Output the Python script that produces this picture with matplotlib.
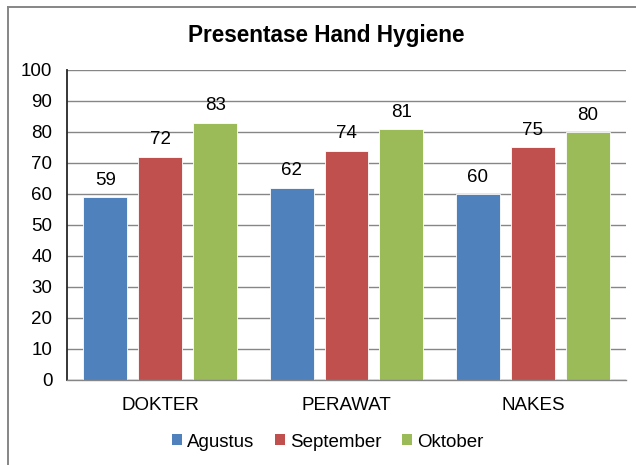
import matplotlib
matplotlib.use("Agg")
import matplotlib.pyplot as plt
import numpy as np
from matplotlib.patches import Patch
from matplotlib.lines import Line2D

plt.rcParams['font.family'] = ['Liberation Sans', 'DejaVu Sans']

# data
categories = ["DOKTER", "PERAWAT", "NAKES"]
months = ["Agustus", "September", "Oktober"]
agustus = [59, 62, 60]
september = [72, 74, 75]
oktober = [83, 81, 80]
colors = ["#4F81BD", "#C0504D", "#9BBB59"]

fig = plt.figure(figsize=(6.36, 4.65), dpi=100)
ax = fig.add_axes([0.1053, 0.1828, 0.879, 0.6667])

x = np.arange(len(categories))
width = 0.236
step = 0.295
for i, (vals, col, lab) in enumerate(zip([agustus, september, oktober], colors, months)):
    bars = ax.bar(x + (i - 1) * step, vals, width, color=col, edgecolor="#ffffff",
                  linewidth=0.6, label=lab, zorder=3)
    ax.bar_label(bars, padding=6, fontsize=13.5)

ax.set_xlim(-0.5, 2.5)
ax.set_ylim(0, 100)
ax.set_yticks(range(0, 101, 10))
ax.set_xticks(x)
ax.set_xticklabels(categories)
ax.tick_params(axis="y", length=0, pad=10.5, labelsize=13.5)
ax.tick_params(axis="x", length=0, pad=12, labelsize=13.5)
ax.yaxis.grid(True, color="#868686", linewidth=1.0, zorder=0)
for s in ["top", "right"]:
    ax.spines[s].set_visible(False)
ax.spines["left"].set_color("#262626")
ax.spines["left"].set_linewidth(1.3)
ax.spines["bottom"].set_color("#868686")
ax.spines["bottom"].set_linewidth(1.0)
ax.spines["bottom"].set_zorder(4)

fig.text(326 / 636, 1 - 35.5 / 465, "Presentase Hand Hygiene", ha="center", va="center",
         fontsize=16.3, fontweight="bold")

handles = [Patch(facecolor=c, edgecolor="none") for c in colors]
fig.legend(handles, months, loc="center", bbox_to_anchor=(328 / 636, 1 - 442 / 465),
           ncol=3, frameon=False, fontsize=13.5, handlelength=0.53, handleheight=0.53,
           handletextpad=0.27, columnspacing=1.1)

# chart border (top and left visible)
fig.add_artist(Line2D([7.5 / 636, 1], [1 - 7.5 / 465] * 2, color="#868686", linewidth=1.4))
fig.add_artist(Line2D([7.5 / 636] * 2, [0, 1 - 7.5 / 465], color="#868686", linewidth=1.4))

fig.savefig("out.png", dpi=100)
